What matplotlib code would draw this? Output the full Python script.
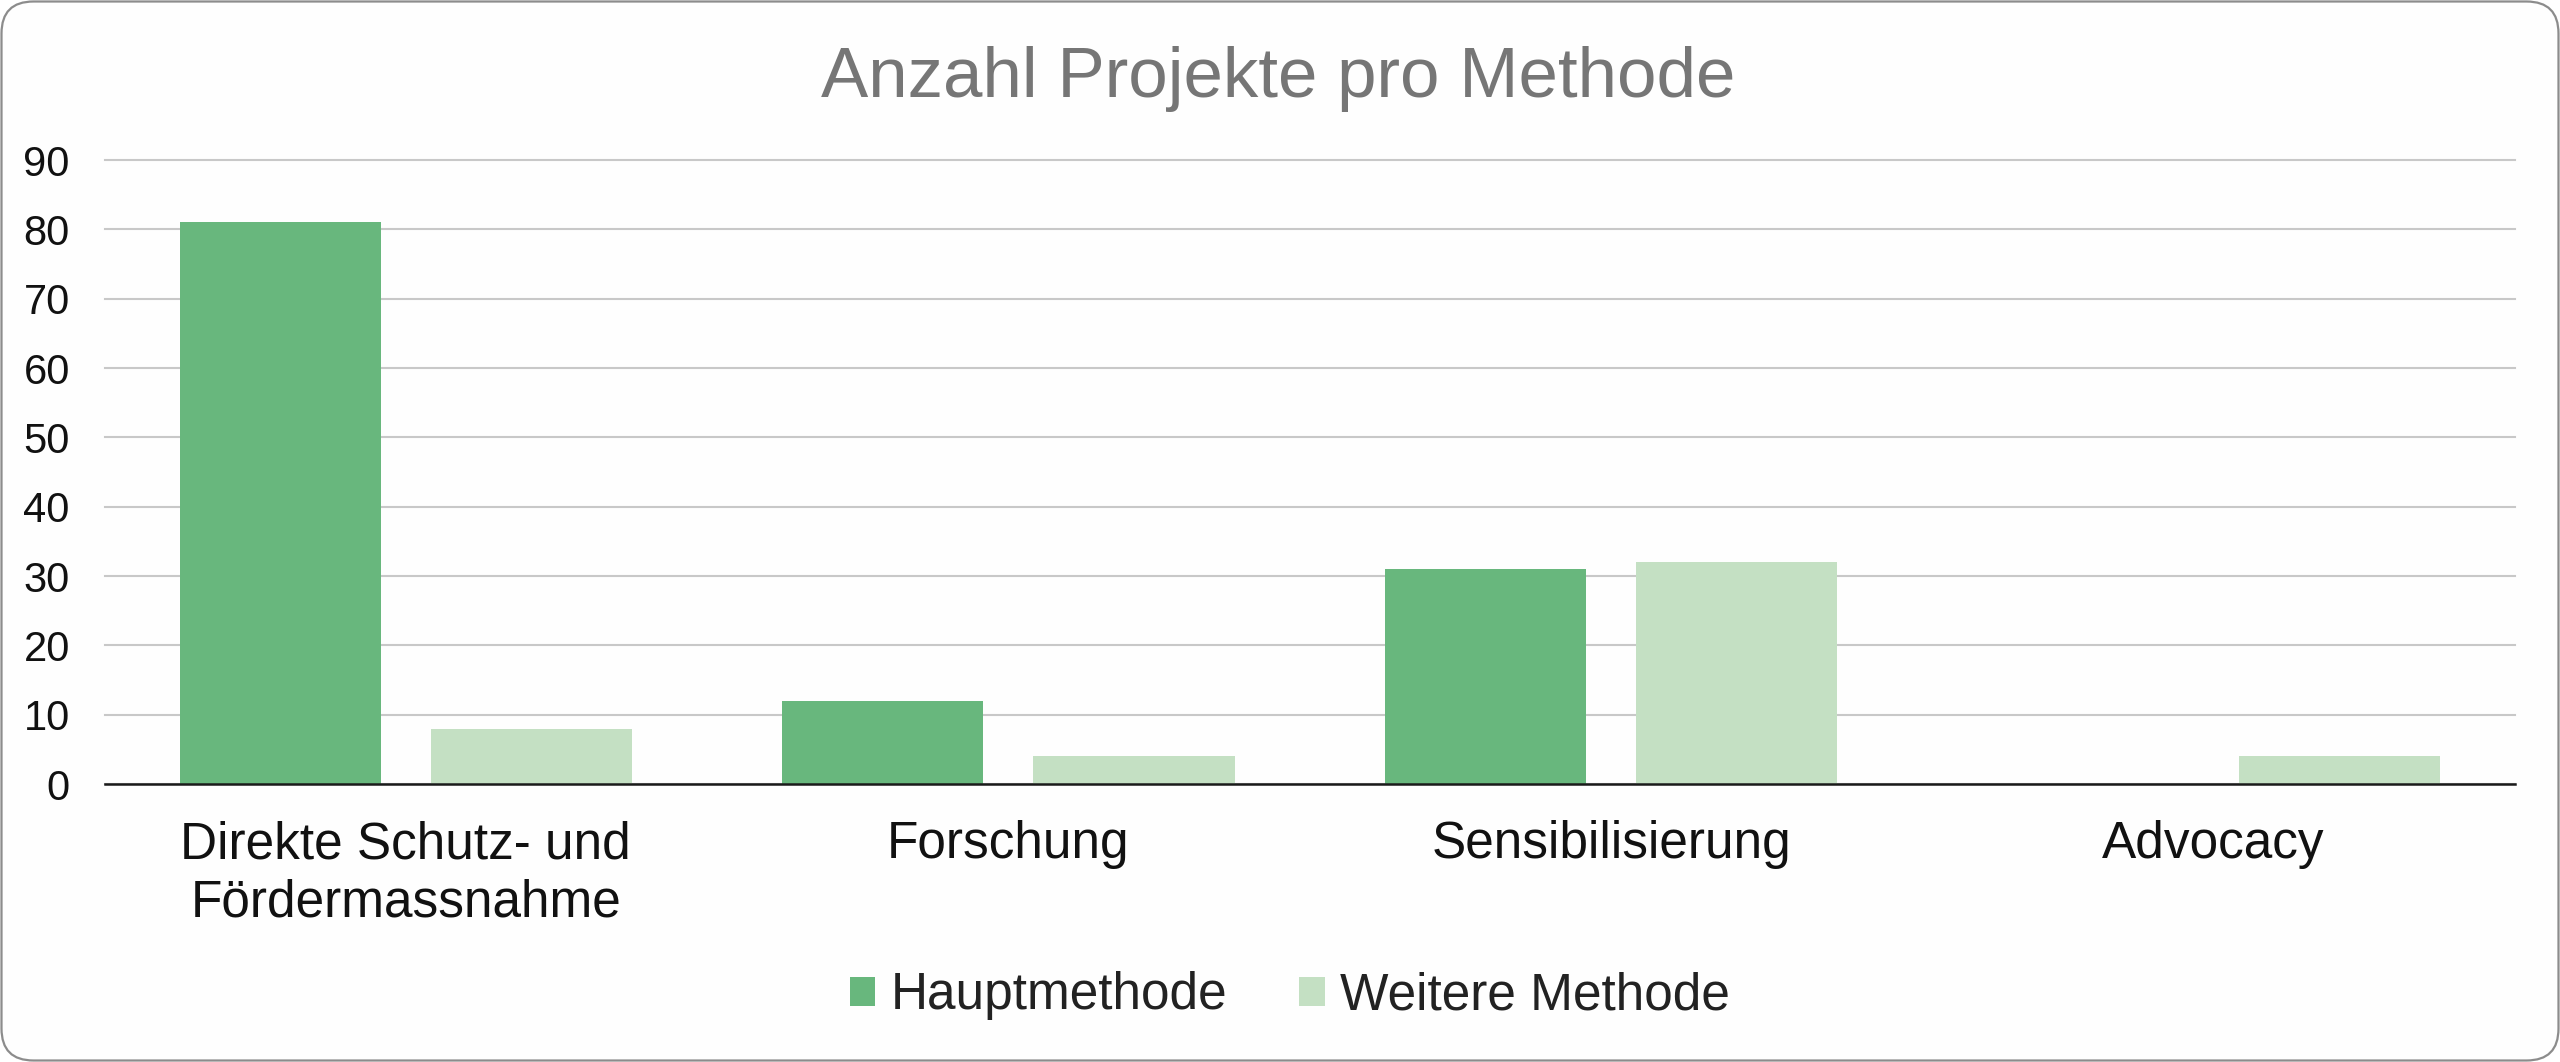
import matplotlib
matplotlib.use("Agg")
import matplotlib.pyplot as plt
from matplotlib.patches import FancyBboxPatch, Patch
from matplotlib.transforms import IdentityTransform
import numpy as np

plt.rcParams['font.family'] = ['Liberation Sans', 'DejaVu Sans']

title = "Anzahl Projekte pro Methode"
categories = ["Direkte Schutz- und\nFördermassnahme", "Forschung", "Sensibilisierung", "Advocacy"]
series_names = ["Hauptmethode", "Weitere Methode"]
haupt = [81, 12, 31, 0]
weitere = [8, 4, 32, 4]
yticks = [0, 10, 20, 30, 40, 50, 60, 70, 80, 90]

c_haupt = "#68B77D"
c_weitere = "#C4E0C3"

W, H = 2560, 1062
fig = plt.figure(figsize=(W / 100, H / 100), dpi=100)
fig.patch.set_facecolor("white")

# rounded frame (pixel coordinates)
frame = FancyBboxPatch((1.5, 1.5), W - 3, H - 3,
                       boxstyle="round,pad=0,rounding_size=32",
                       transform=IdentityTransform(), facecolor="#FEFEFE",
                       edgecolor="#8C8C8C", linewidth=1.6, zorder=-10)
fig.patches.append(frame)

ax = fig.add_axes([104.5 / W, 1 - 784 / H, (2515 - 104.5) / W, (784 - 160) / H])
ax.set_facecolor("none")

x = np.arange(len(categories))
bw = 0.334
off = 0.2085
ax.bar(x - off, haupt, width=bw, color=c_haupt, zorder=3)
ax.bar(x + off, weitere, width=bw, color=c_weitere, zorder=3)

ax.set_xlim(-0.5, len(categories) - 0.5)
ax.set_ylim(0, 90)
ax.set_yticks(yticks)
ax.set_yticklabels([str(v) for v in yticks])
ax.yaxis.grid(True, color="#C8C8C8", linewidth=1.5, zorder=0)
for gl in ax.get_ygridlines():
    gl.set_clip_on(False)
ax.set_axisbelow(True)
for s in ["top", "right", "left"]:
    ax.spines[s].set_visible(False)
ax.spines["bottom"].set_color("#1a1a1a")
ax.spines["bottom"].set_linewidth(1.8)
ax.spines["bottom"].set_zorder(4)

ax.set_xticks(x)
ax.set_xticklabels(categories, fontsize=37, color="#111111", linespacing=1.25)
ax.tick_params(axis="x", length=0, pad=26)
ax.tick_params(axis="y", length=0, pad=25, labelsize=30, labelcolor="#111111")

fig.text(1278 / W, 1 - 97 / H, title, ha="center", va="baseline",
         fontsize=51, color="#767676")

handles = [Patch(facecolor=c_haupt, edgecolor="none"),
           Patch(facecolor=c_weitere, edgecolor="none")]
fig.legend(handles, series_names, loc="center", bbox_to_anchor=(1290 / W, 1 - 996 / H),
           ncol=2, frameon=False, fontsize=37, handlelength=0.5, handleheight=0.5,
           handletextpad=0.3, columnspacing=1.4, labelcolor="#222222")

fig.savefig("out.png", dpi=100, facecolor="white")
